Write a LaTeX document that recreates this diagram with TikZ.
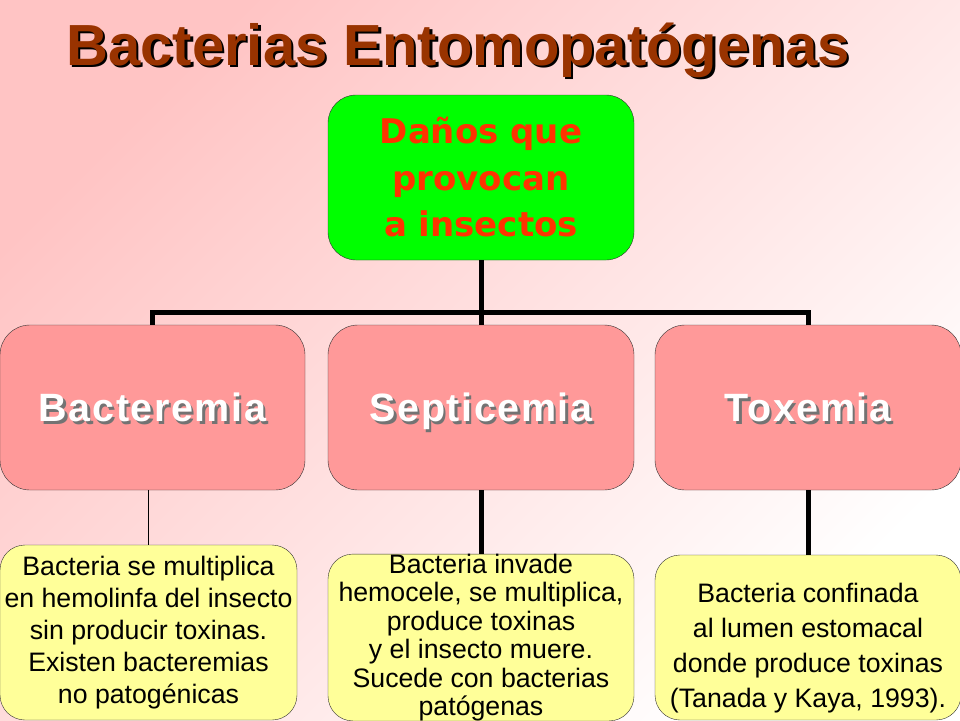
\documentclass[tikz,border=0pt]{standalone}
\usepackage{fontspec}
\setmainfont{Liberation Sans}
\newfontfamily\rootfont{DejaVu Sans}
\newfontfamily\kindfont[LetterSpace=4]{Liberation Sans}
\usepackage{xcolor}
\usepackage{tikz}

\definecolor{bgpink}{HTML}{FFC4C4}
\definecolor{titlebrown}{HTML}{993300}
\definecolor{rootgreen}{HTML}{00FF00}
\definecolor{rootred}{HTML}{FF3300}
\definecolor{kindpink}{HTML}{FF9999}
\definecolor{infoyellow}{HTML}{FFFF99}

\newcommand{\shadowed}[2]{\rlap{\kern2.5pt\raisebox{-2.5pt}{\color{#2}#1}}#1}

\begin{document}
\begin{tikzpicture}[x=1pt, y=-1pt,
    rootbox/.style={draw=black!80, rounded corners=28pt, fill=rootgreen,
        minimum width=306pt, minimum height=165pt, align=center, text=rootred,
        font=\rootfont\bfseries\fontsize{34}{46.5}\selectfont},
    kindbox/.style={draw=black!80, rounded corners=30pt, fill=kindpink,
        minimum width=306pt, minimum height=165pt, text=white,
        text height=28pt, text depth=0pt,
        font=\kindfont\bfseries\fontsize{39.5}{44}\selectfont},
    infobox/.style={draw=black!80, rounded corners=25pt, fill=infoyellow,
        minimum width=306pt, minimum height=165pt, inner sep=0pt, align=center},
    thickbar/.style={line width=5pt, black},
    thinbar/.style={line width=1pt, black}]
        \useasboundingbox (0,0) rectangle (960,720);
        \shade[top color=bgpink, bottom color=white, shading angle=45] (0,0) rectangle (960,720);

        % Title
        \node[anchor=base, text=titlebrown, font=\bfseries\fontsize{58}{60}\selectfont]
            (title) at (458,65) {\shadowed{Bacterias Entomopatógenas}{black}};

        % Root
        \node[rootbox] (damage) at (481,177.5) {Daños que\\provocan\\a insectos};
        \coordinate (bus) at (481,312.5);

        % Kinds
        \node[kindbox, minimum width=305pt] (bact) at (152.5,407.5) {\shadowed{Bacteremia}{black!55}};
        \node[kindbox] (sept) at (481,407.5) {\shadowed{Septicemia}{black!55}};
        \node[kindbox] (tox) at (808,407.5) {\shadowed{Toxemia}{black!55}};

        % Descriptions
        \node[infobox, minimum width=297pt, minimum height=175pt,
            font=\fontsize{26.7}{31.8}\selectfont]
            (bact-info) at (148.5,632.5) {Bacteria se multiplica\\en hemolinfa del insecto\\sin producir toxinas.\\Existen bacteremias\\no patogénicas};
        \node[infobox, font=\fontsize{26.7}{28.4}\selectfont]
            (sept-info) at (481,637.5) {Bacteria invade\\hemocele, se multiplica,\\produce toxinas\\y el insecto muere.\\Sucede con bacterias\\patógenas};
        \node[infobox, font=\fontsize{26.7}{35}\selectfont]
            (tox-info) at (808,637.5) {\rule{0pt}{40pt}Bacteria confinada\\al lumen estomacal\\donde produce toxinas\\(Tanada y Kaya, 1993).};

        % Connectors
        \draw[thickbar] (damage) -- (bus);
        \draw[thickbar] (bus) -| (bact);
        \draw[thickbar] (bus) -- (sept);
        \draw[thickbar] (bus) -| (tox);
        \draw[thinbar] (bact-info.north) -- (bact-info.north |- bact.south);
        \draw[thickbar] (sept) -- (sept-info);
        \draw[thickbar] (tox) -- (tox-info);
    \end{tikzpicture}
\end{document}
